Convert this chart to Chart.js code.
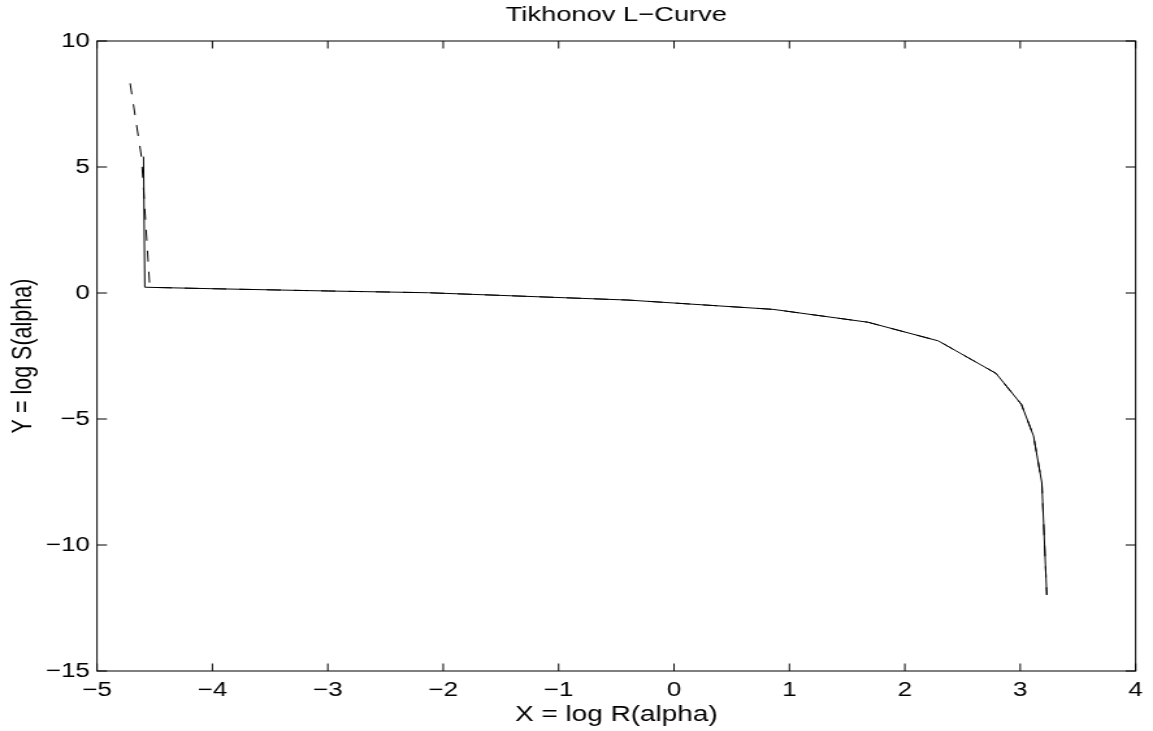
<!DOCTYPE html>
<html>
<head>
<meta charset="utf-8">
<title>Tikhonov L-Curve</title>
<script src="https://cdn.jsdelivr.net/npm/chart.js"></script>
<style>
  html, body { margin: 0; padding: 0; background: #fff; overflow: hidden; }
  /* the reference figure is stretched sideways, so the chart is drawn narrower and widened here */
  #wrap { width: 887px; height: 731px; transform: scaleX(1.29989); transform-origin: 0 0; }
</style>
</head>
<body>
<div id="wrap"><canvas id="lcurve" width="887" height="731"></canvas></div>
<script>
// L-curve points: X = log R(alpha), Y = log S(alpha)
const solidX = [-4.597, -4.586, -4.50, -4.00, -3.00, -2.13, -0.40, 0.86, 1.68, 2.29, 2.79, 3.01, 3.115, 3.187, 3.23];
const solidY = [5.41, 0.23, 0.22, 0.17, 0.08, 0.01, -0.28, -0.65, -1.16, -1.90, -3.19, -4.42, -5.67, -7.53, -11.98];

// dashed curve, only differs from the solid one at the left end
const dashX = [-4.713, -4.615, -4.543, -4.50, -4.00, -3.00, -2.13, -0.40, 0.86, 1.68, 2.29, 2.79, 3.01, 3.115, 3.187, 3.23];
const dashY = [8.32, 5.41, 0.25, 0.22, 0.17, 0.08, 0.01, -0.28, -0.65, -1.16, -1.90, -3.19, -4.42, -5.67, -7.53, -11.98];

// axis ranges and tick steps
const xRange = [-5, 4];
const yRange = [-15, 10];
const xStep = 1;
const yStep = 5;

const titleText = 'Tikhonov L\u2212Curve';
const xTitle = 'X = log R(alpha)';
const yTitle = 'Y = log S(alpha)';

Chart.defaults.font.family = "'Liberation Sans', Arial, Helvetica, sans-serif";
Chart.defaults.color = '#000';

function toPoints(xs, ys) {
    return xs.map((x, i) => ({ x: x, y: ys[i] }));
}

function minusLabel(v) {
    return v < 0 ? '\u2212' + Math.abs(v) : String(v);
}

// matlab style box with tick marks pointing inwards on all four sides
const boxTicks = {
    id: 'boxTicks',
    afterDatasetsDraw(chart) {
        const { ctx, chartArea: a, scales: { x, y } } = chart;
        ctx.save();
        ctx.strokeStyle = '#000';
        ctx.lineWidth = 1;
        ctx.strokeRect(a.left, a.top, a.right - a.left, a.bottom - a.top);
        ctx.beginPath();
        x.ticks.forEach(t => {
            const px = x.getPixelForValue(t.value);
            ctx.moveTo(px, a.bottom);
            ctx.lineTo(px, a.bottom - 7.5);
            ctx.moveTo(px, a.top);
            ctx.lineTo(px, a.top + 7.5);
        });
        y.ticks.forEach(t => {
            const py = y.getPixelForValue(t.value);
            ctx.moveTo(a.left, py);
            ctx.lineTo(a.left + 7.7, py);
            ctx.moveTo(a.right, py);
            ctx.lineTo(a.right - 7.7, py);
        });
        ctx.stroke();
        ctx.restore();
    }
};

new Chart(document.getElementById('lcurve'), {
    type: 'scatter',
    data: {
        datasets: [
            {
                label: 'dashed',
                data: toPoints(dashX, dashY),
                showLine: true,
                borderColor: '#000',
                borderWidth: 1,
                borderDash: [11, 10],
                pointRadius: 0,
                tension: 0
            },
            {
                label: 'solid',
                data: toPoints(solidX, solidY),
                showLine: true,
                borderColor: '#000',
                borderWidth: 1,
                pointRadius: 0,
                tension: 0
            }
        ]
    },
    options: {
        responsive: false,
        animation: false,
        devicePixelRatio: 1,
        layout: { padding: { right: 9.23, left: 0, top: 0, bottom: 0 } },
        plugins: {
            legend: { display: false },
            tooltip: { enabled: false },
            title: {
                display: true,
                fullSize: false, // centre over the plot box, not the whole canvas
                text: titleText,
                color: '#000',
                font: { size: 21, weight: 'normal' },
                padding: { top: 2.75, bottom: 13.05 }
            }
        },
        scales: {
            x: {
                type: 'linear',
                min: xRange[0],
                max: xRange[1],
                grid: { display: false, drawTicks: false },
                border: { display: false },
                ticks: {
                    stepSize: xStep,
                    autoSkip: false,
                    maxRotation: 0,
                    padding: 7.8,
                    color: '#000',
                    font: { size: 20 },
                    callback: minusLabel
                },
                title: {
                    display: true,
                    text: xTitle,
                    color: '#000',
                    font: { size: 21.5 },
                    padding: { top: 0, bottom: 2.9 }
                },
                afterFit: scale => { scale.height = 60; }
            },
            y: {
                type: 'linear',
                min: yRange[0],
                max: yRange[1],
                grid: { display: false, drawTicks: false },
                border: { display: false },
                ticks: {
                    stepSize: yStep,
                    autoSkip: false,
                    padding: 5.4,
                    color: '#000',
                    font: { size: 20 },
                    callback: minusLabel
                },
                title: {
                    display: true,
                    text: yTitle,
                    color: '#000',
                    font: { size: 21.5 },
                    padding: { top: 5.6, bottom: 0 }
                },
                afterFit: scale => { scale.width = 74.62; }
            }
        }
    },
    plugins: [boxTicks]
});
</script>
</body>
</html>
